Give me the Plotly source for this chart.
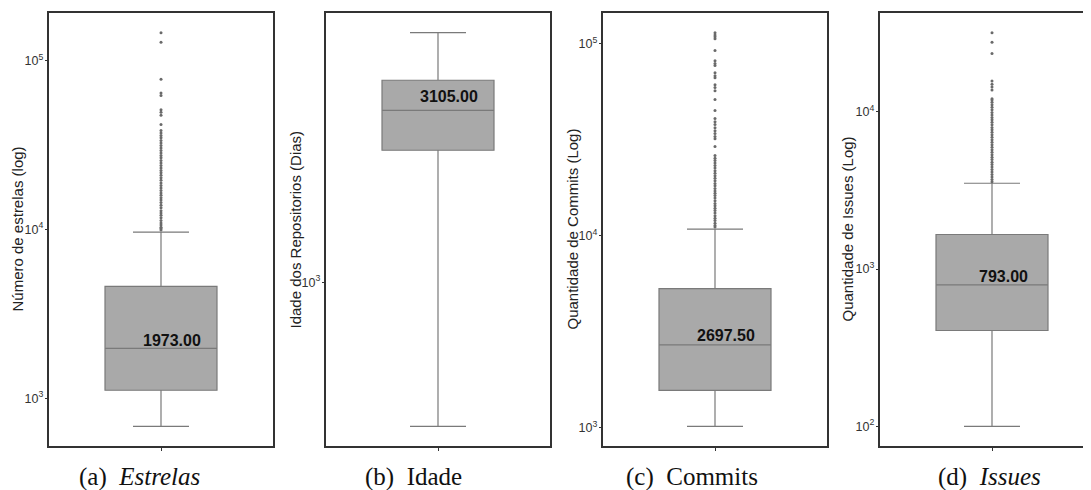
import plotly.graph_objects as go
import numpy as np

# ---------------- data ----------------
captions = ["(a)&nbsp; <i>Estrelas</i>", "(b)&nbsp; Idade", "(c)&nbsp; Commits", "(d)&nbsp; <i>Issues</i>"]
ytitles = ["Número de estrelas (log)", "Idade dos Repositorios (Dias)",
           "Quantidade de Commits (Log)", "Quantidade de Issues (Log)"]

q1 = [1115, 2387, 1563, 407]
median = [1973.0, 3105.0, 2697.5, 793.0]
q3 = [4600, 3786, 5300, 1660]
lowerfence = [682, 387, 1016, 100]
upperfence = [9640, 5180, 10800, 3515]

outliers_estrelas = [146000, 128000, 77500, 64100, 62100, 51000, 49400, 47300, 41700,
                     38500, 37200, 36000, 34800, 33600, 32500, 31400, 30300, 29300, 28300,
                     27400, 26500, 25600, 24700, 23900, 23100, 22300, 21600, 20900, 20200,
                     19500, 18800, 18200, 17600, 17000, 16400, 15900, 15400, 14900, 14400,
                     13900, 13400, 12900, 12500, 12100, 11700, 11300, 10900, 10600, 10300,
                     10100, 9900]
outliers_idade = []
outliers_commits = [114000, 111000, 108700, 106000, 92000, 81500, 78700, 76800, 70600,
                    68100, 66500, 61100, 59000, 56900, 51100, 44800, 40700, 39200, 37900,
                    36500, 35200, 34000, 32800, 32000, 29100, 26100, 25300, 24600, 23900,
                    23200, 22500, 21800, 21100, 20500, 19900, 19300, 18700, 18200, 17600,
                    17100, 16600, 16200, 15700, 15200, 14700, 14300, 13900, 13500, 13100,
                    12700, 12300, 12000, 11600, 11300, 11100]
outliers_issues = [31900, 27700, 23500, 15700, 15000, 14400, 13800, 12100, 11900, 11500,
                   11100, 10700, 10300, 9900, 9570, 9200, 8900, 8580, 8270, 7970, 7690,
                   7410, 7150, 6900, 6650, 6410, 6180, 5950, 5740, 5530, 5340, 5150, 4970,
                   4790, 4620, 4460, 4300, 4140, 3990, 3850, 3710, 3600]
outliers = [outliers_estrelas, outliers_idade, outliers_commits, outliers_issues]

# ---------------- layout geometry (page pixels) ----------------
PAGE_W, PAGE_H = 1091, 490
OFF = 8                      # default body margin of the html page
W, H = PAGE_W - OFF, PAGE_H - OFF
frame_left = [49, 326, 603, 880]
panel_w = 224
frame_top, frame_bottom = 13, 446
title_x = [17, 295, 572, 847]
caption_x = [139, 414, 692, 989]
caption_y = 477
label_yshift = [8, 14, 9, 8]


def px(xp):
    return (xp - OFF) / W


def py(yp):
    return 1 - (yp - OFF) / H


FRAME = "#333333"
BOXFILL = "#A9A9A9"
BOXLINE = "#7A7A7A"
SANS = "Liberation Sans, Arial, sans-serif"
SERIF = "Liberation Serif, Times New Roman, serif"

fig = go.Figure()
annotations = []
ydom = [py(frame_bottom), py(frame_top)]

for i in range(4):
    xa = "x" if i == 0 else f"x{i+1}"
    ya = "y" if i == 0 else f"y{i+1}"
    xl = frame_left[i]
    xr = xl + panel_w
    xdom_l = px(xl)
    xdom_r = min(1.0, px(xr))
    xr_vis = xdom_r * W + OFF
    x_range = [-1, -1 + 2 * (xr_vis - xl) / panel_w]

    fig.add_trace(go.Box(
        x=[0], q1=[q1[i]], median=[median[i]], q3=[q3[i]],
        lowerfence=[lowerfence[i]], upperfence=[upperfence[i]],
        width=1, whiskerwidth=0.5, boxpoints=False,
        fillcolor=BOXFILL, line=dict(color=BOXLINE, width=1.2),
        xaxis=xa, yaxis=ya, showlegend=False, hoverinfo="skip"))
    if outliers[i]:
        fig.add_trace(go.Scatter(
            x=[0] * len(outliers[i]), y=outliers[i], mode="markers",
            marker=dict(size=3, color="#6A6A6A"),
            xaxis=xa, yaxis=ya, showlegend=False, hoverinfo="skip"))

    allv = [lowerfence[i], upperfence[i]] + outliers[i]
    lo, hi = np.log10(min(allv)), np.log10(max(allv))
    pad = 0.05 * (hi - lo)
    y_range = [lo - pad, hi + pad]

    xkey = "xaxis" if i == 0 else f"xaxis{i+1}"
    ykey = "yaxis" if i == 0 else f"yaxis{i+1}"
    fig.layout[xkey] = dict(
        domain=[xdom_l, xdom_r], range=x_range, anchor=ya,
        showline=True, linecolor=FRAME, linewidth=1.5, mirror=True,
        showgrid=False, zeroline=False, tickvals=[0], showticklabels=False,
        ticks="outside", ticklen=3, tickcolor=FRAME, fixedrange=True)
    fig.layout[ykey] = dict(
        domain=ydom, type="log", range=y_range, anchor=xa,
        showline=True, linecolor=FRAME, linewidth=1.5, mirror=(i < 3),
        showgrid=False, zeroline=False, dtick=1, exponentformat="power",
        ticks="outside", ticklen=2, tickcolor=FRAME,
        tickfont=dict(family=SANS, size=10, color="#333333"))

    # median label
    annotations.append(dict(
        x=0.1, y=np.log10(median[i]), xref=xa, yref=ya,
        text=f"<b>{median[i]:.2f}</b>", showarrow=False,
        xanchor="center", yanchor="middle", yshift=label_yshift[i],
        font=dict(family=SANS, size=16, color="#111111")))
    # y-axis title
    annotations.append(dict(
        x=px(title_x[i]), y=py((frame_top + frame_bottom) / 2),
        xref="paper", yref="paper", text=ytitles[i], textangle=-90,
        showarrow=False, xanchor="center", yanchor="middle",
        font=dict(family=SANS, size=15, color="#222222")))
    # caption
    annotations.append(dict(
        x=px(caption_x[i]), y=py(caption_y), xref="paper", yref="paper",
        text=captions[i], showarrow=False, xanchor="center", yanchor="middle",
        font=dict(family=SERIF, size=25, color="#111111")))

fig.update_layout(
    width=W, height=H, margin=dict(l=0, r=0, t=0, b=0),
    paper_bgcolor="white", plot_bgcolor="white",
    annotations=annotations, showlegend=False)

fig.write_html("out.html")
